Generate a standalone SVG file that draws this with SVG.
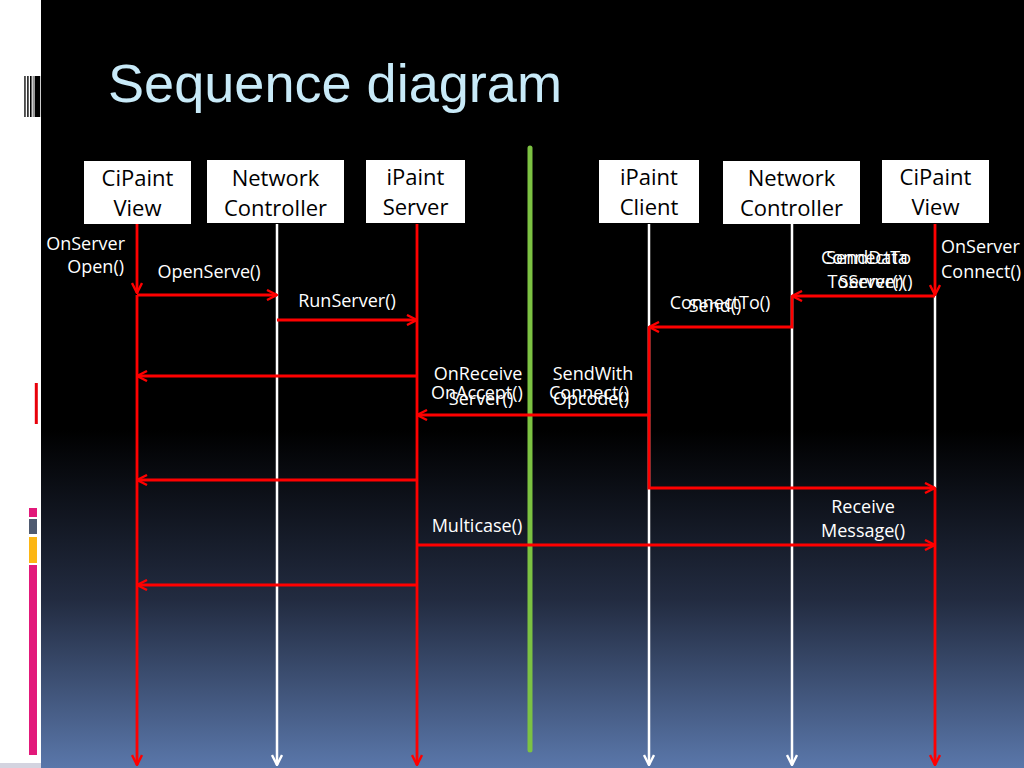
<svg xmlns="http://www.w3.org/2000/svg" width="1024" height="768" viewBox="0 0 1024 768">
<defs>
<linearGradient id="bg" x1="0" y1="0" x2="0" y2="768" gradientUnits="userSpaceOnUse">
<stop offset="0" stop-color="#000000"/>
<stop offset="0.56" stop-color="#000000"/>
<stop offset="0.78" stop-color="#222b40"/>
<stop offset="1" stop-color="#5a77aa"/>
</linearGradient>
<marker id="ar" viewBox="0 0 12 12" refX="11" refY="6" markerWidth="12" markerHeight="12" markerUnits="userSpaceOnUse" orient="auto">
<path d="M1,1 L11,6 L1,11" fill="none" stroke="#ff0000" stroke-width="2.4"/>
</marker>
<marker id="aw" viewBox="0 0 12 12" refX="11" refY="6" markerWidth="12" markerHeight="12" markerUnits="userSpaceOnUse" orient="auto">
<path d="M1,1 L11,6 L1,11" fill="none" stroke="#ffffff" stroke-width="2.4"/>
</marker>
</defs>
<style>
.box{fill:#ffffff;}
.bt{font-family:"Open Sans","Noto Sans",sans-serif;font-size:22px;fill:#000000;text-anchor:middle;}
.lb{font-family:"Open Sans","Noto Sans",sans-serif;font-size:18px;fill:#ffffff;text-anchor:middle;}
.wl{stroke:#ffffff;stroke-width:2.5;fill:none;}
.rl{stroke:#ff0000;stroke-width:2.8;fill:none;}
</style>
<rect x="0" y="0" width="1024" height="768" fill="#ffffff"/>
<rect x="41" y="0" width="983" height="768" fill="url(#bg)"/>
<rect x="0" y="763" width="41" height="5" fill="#d4d4e0"/>
<g id="sidebar">
<rect x="24.3" y="76" width="1.3" height="41" fill="#000"/>
<rect x="27.2" y="76" width="1.4" height="41" fill="#000"/>
<rect x="30" y="76" width="1.6" height="41" fill="#000"/>
<rect x="32.6" y="76" width="1.3" height="41" fill="#888"/>
<rect x="34.6" y="76" width="5.6" height="41" fill="#000"/>
<rect x="34.8" y="383" width="3" height="41" fill="#e8000a"/>
<rect x="29" y="508" width="8" height="9" fill="#e2197a"/>
<rect x="29" y="519" width="8" height="15" fill="#4f5a70"/>
<rect x="29" y="537" width="8" height="26" fill="#fcb614"/>
<rect x="29" y="565" width="8" height="190" fill="#e2197a"/>
</g>
<text x="108" y="102" font-family="Liberation Sans, Arial, sans-serif" font-size="54" fill="#c8eaf8" textLength="454" lengthAdjust="spacingAndGlyphs">Sequence diagram</text>
<line x1="530" y1="148" x2="530" y2="750" stroke="#7cc242" stroke-width="5" stroke-linecap="round"/>
<g id="connectors">
<line class="wl" x1="277" y1="224" x2="277" y2="765" marker-end="url(#aw)"/>
<line class="wl" x1="649" y1="224" x2="649" y2="765" marker-end="url(#aw)"/>
<line class="wl" x1="792" y1="224" x2="792" y2="765" marker-end="url(#aw)"/>
<line class="wl" x1="935" y1="295" x2="935" y2="488"/>
<path class="rl" d="M137,224 L137,293" marker-end="url(#ar)"/>
<path class="rl" d="M137,295 L137,765" marker-end="url(#ar)"/>
<path class="rl" d="M417,224 L417,765" marker-end="url(#ar)"/>
<path class="rl" d="M137,295 L277,295" marker-end="url(#ar)"/>
<path class="rl" d="M277,320 L417,320" marker-end="url(#ar)"/>
<path class="rl" d="M417,376 L137,376" marker-end="url(#ar)"/>
<path class="rl" d="M417,480 L137,480" marker-end="url(#ar)"/>
<path class="rl" d="M417,585 L137,585" marker-end="url(#ar)"/>
<path class="rl" d="M417,545 L935,545" marker-end="url(#ar)"/>
<path class="rl" d="M935,224 L935,295" marker-end="url(#ar)"/>
<path class="rl" d="M935,296 L792,296" marker-end="url(#ar)"/>
<path class="rl" d="M792,296 L792,327 L649,327" marker-end="url(#ar)"/>
<path class="rl" d="M649,327 L649,415 L417,415" marker-end="url(#ar)"/>
<path class="rl" d="M649,414 L649,488 L935,488" marker-end="url(#ar)"/>
<path class="rl" d="M935,488 L935,765" marker-end="url(#ar)"/>
</g>
<g id="labels">
<text class="lb" x="125" y="250" text-anchor="end" style="text-anchor:end">OnServer</text>
<text class="lb" x="124" y="273" style="text-anchor:end">Open()</text>
<text class="lb" x="209" y="278">OpenServe()</text>
<text class="lb" x="347" y="307">RunServer()</text>
<text class="lb" x="941" y="253" style="text-anchor:start">OnServer</text>
<text class="lb" x="941" y="278" style="text-anchor:start">Connect()</text>
<text class="lb" x="867" y="264">SendData</text>
<text class="lb" x="870" y="288">ToServer()</text>
<text class="lb" x="866" y="264">ConnectTo</text>
<text class="lb" x="871" y="288">Server()</text>
<text class="lb" x="720" y="309">ConnectTo()</text>
<text class="lb" x="715" y="312">Send()</text>
<text class="lb" x="478" y="380">OnReceive</text>
<text class="lb" x="481" y="405">Server()</text>
<text class="lb" x="477" y="399">OnAccept()</text>
<text class="lb" x="593" y="380">SendWith</text>
<text class="lb" x="591" y="405">Opcode()</text>
<text class="lb" x="589" y="399">Connect()</text>
<text class="lb" x="477" y="532">Multicase()</text>
<text class="lb" x="863" y="513">Receive</text>
<text class="lb" x="863" y="537">Message()</text>
</g>
<g id="node-cipaint-view-left">
<rect class="box" x="84" y="161" width="107" height="63"/>
<text class="bt" x="137.5" y="186">CiPaint</text>
<text class="bt" x="137.5" y="216">View</text>
</g>
<g id="node-network-controller-left">
<rect class="box" x="207" y="160" width="137" height="63"/>
<text class="bt" x="275.5" y="186">Network</text>
<text class="bt" x="275.5" y="216">Controller</text>
</g>
<g id="node-ipaint-server">
<rect class="box" x="366" y="160" width="99" height="63"/>
<text class="bt" x="415.5" y="185">iPaint</text>
<text class="bt" x="415.5" y="215">Server</text>
</g>
<g id="node-ipaint-client">
<rect class="box" x="599" y="160" width="100" height="63"/>
<text class="bt" x="649" y="185">iPaint</text>
<text class="bt" x="649" y="215">Client</text>
</g>
<g id="node-network-controller-right">
<rect class="box" x="723" y="161" width="137" height="63"/>
<text class="bt" x="791.5" y="186">Network</text>
<text class="bt" x="791.5" y="216">Controller</text>
</g>
<g id="node-cipaint-view-right">
<rect class="box" x="882" y="160" width="107" height="63"/>
<text class="bt" x="935.5" y="185">CiPaint</text>
<text class="bt" x="935.5" y="215">View</text>
</g>
</svg>
